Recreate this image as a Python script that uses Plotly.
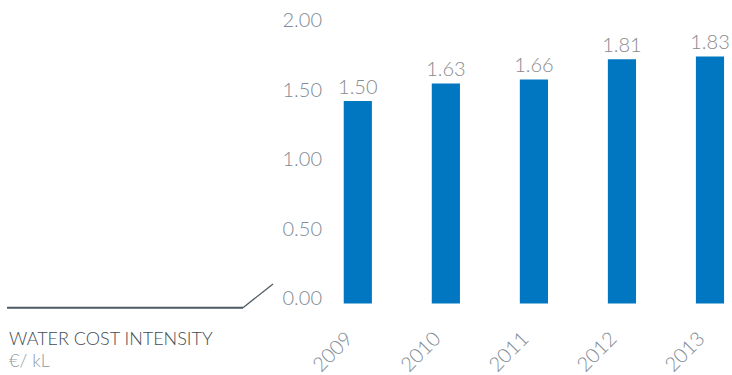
import plotly.graph_objects as go

years = ["2009", "2010", "2011", "2012", "2013"]
cost = [1.50, 1.63, 1.66, 1.81, 1.83]
value_labels = ["1.50", "1.63", "1.66", "1.81", "1.83"]
y_ticks = [0, 0.5, 1.0, 1.5, 2.0]
y_tick_text = ["0.00", "0.50", "1.00", "1.50", "2.00"]

BLUE = "#0077c0"
TICK_GREY = "#7f8b95"
LABEL_GREY = "#8a8a8c"
DARK = "#424c54"
FONT = "Lato"

fig = go.Figure()

# bars live on an overlaid axis (the original artwork's bars sit a touch lower than its ticks)
fig.add_trace(go.Bar(
    x=years, y=cost, yaxis="y2",
    marker=dict(color=BLUE, line=dict(width=0)),
    width=0.32,
    text=value_labels, textposition="outside", cliponaxis=False,
    constraintext="none",
    textfont=dict(family=FONT, size=20, color=LABEL_GREY, weight=300),
    hoverinfo="skip",
))
# invisible trace so the tick axis is drawn
fig.add_trace(go.Scatter(x=years, y=cost, mode="markers", marker=dict(opacity=0),
                         hoverinfo="skip", showlegend=False))

fig.update_layout(
    width=732, height=375,
    margin=dict(l=327, r=0, t=10, b=65, autoexpand=False),
    paper_bgcolor="white", plot_bgcolor="white",
    showlegend=False,
    xaxis=dict(
        type="category", range=[-0.35, 4.25], automargin=False,
        showgrid=False, zeroline=False, showline=False, ticks="",
        tickangle=-45, ticklabelstandoff=12, ticklabelshift=-11,
        tickfont=dict(family=FONT, size=20, color=TICK_GREY, weight=300),
    ),
    yaxis=dict(
        range=[-0.0863, 2.072], automargin=False,
        tickvals=y_ticks, ticktext=y_tick_text,
        showgrid=False, zeroline=False, showline=False, ticks="",
        ticklabelstandoff=4,
        tickfont=dict(family=FONT, size=20, color=TICK_GREY, weight=300),
    ),
    yaxis2=dict(
        overlaying="y", range=[-0.048, 2.174], visible=False, automargin=False,
    ),
    shapes=[
        dict(type="line", xref="paper", yref="paper",
             x0=-0.790, x1=-0.2074, y0=0.0077, y1=0.0077,
             line=dict(color="#4e5a62", width=2)),
        dict(type="line", xref="paper", yref="paper",
             x0=-0.2074, x1=-0.1333, y0=0.0077, y1=0.0867,
             line=dict(color="#4e5a62", width=1.3)),
    ],
    annotations=[
        dict(text="WATER COST INTENSITY", xref="paper", yref="paper",
             x=-0.790, y=-0.0917, xanchor="left", yanchor="middle", showarrow=False,
             font=dict(family=FONT, size=18, color=DARK, weight=300)),
        dict(text="€/ kL", xref="paper", yref="paper",
             x=-0.790, y=-0.1667, xanchor="left", yanchor="middle", showarrow=False,
             font=dict(family=FONT, size=18, color="#8e99a3", weight=300)),
    ],
)

fig.write_html("out.html", config={"displayModeBar": False},
               post_script="document.body.style.margin='0px';")
